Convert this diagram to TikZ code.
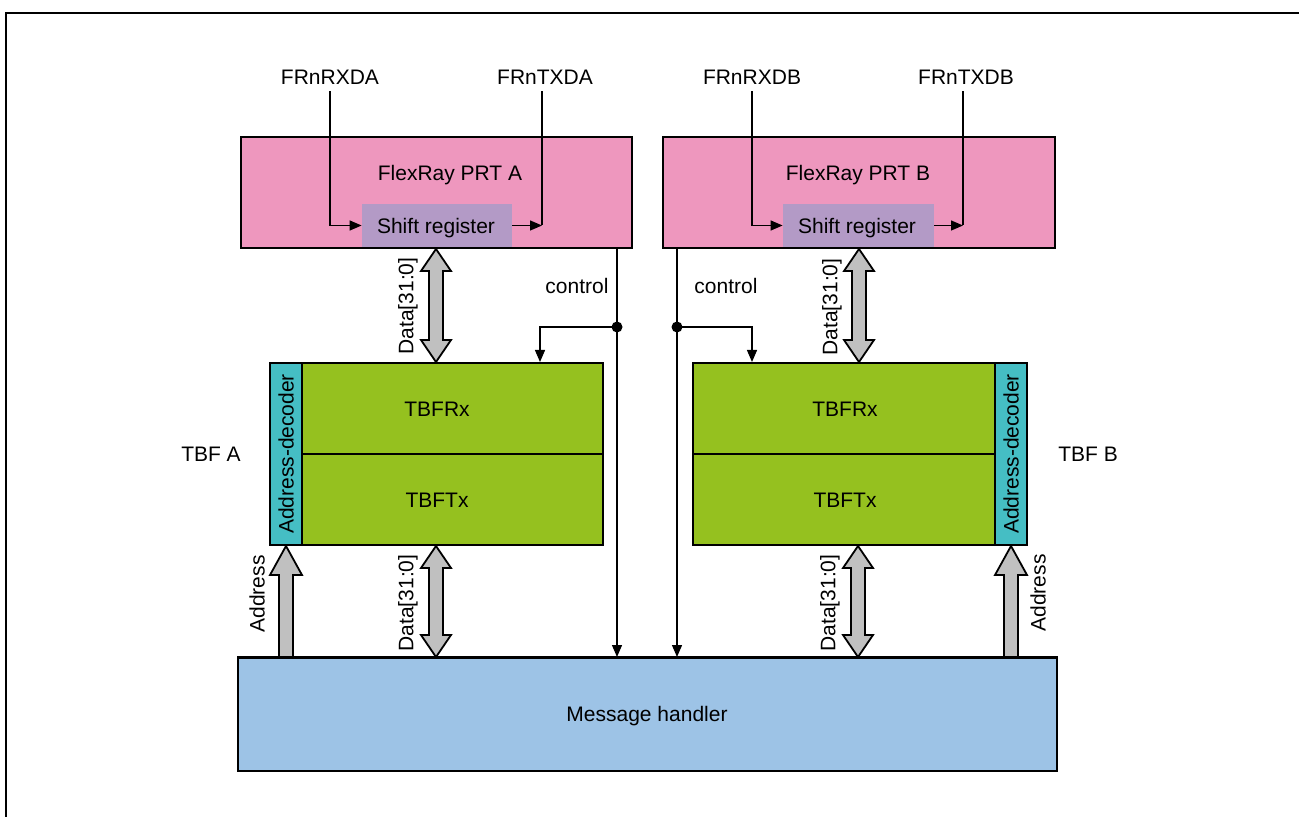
\documentclass[tikz,border=0pt]{standalone}
\usepackage{fontspec}
\setmainfont{Liberation Sans}
\usetikzlibrary{arrows.meta,calc}
\definecolor{prt}{HTML}{EE97BE}
\definecolor{shreg}{HTML}{B39AC6}
\definecolor{tbf}{HTML}{95C11F}
\definecolor{adec}{HTML}{45BEC4}
\definecolor{mhc}{HTML}{9DC3E6}
\definecolor{fat}{HTML}{C0C0C0}
\newcommand\fatdbl[2]{%
  \draw[fatarrow] (#1) -- ([shift={(15,22)}]#1) -- ([shift={(7,22)}]#1) -- ([shift={(7,-22)}]#2) -- ([shift={(15,-22)}]#2) -- (#2) -- ([shift={(-15,-22)}]#2) -- ([shift={(-7,-22)}]#2) -- ([shift={(-7,22)}]#1) -- ([shift={(-15,22)}]#1) -- cycle;}
\newcommand\fatup[2]{%
  \draw[fatarrow] ([shift={(-7,0)}]#1) -- ([shift={(-7,29)}]#2) -- ([shift={(-16,29)}]#2) -- (#2) -- ([shift={(16,29)}]#2) -- ([shift={(7,29)}]#2) -- ([shift={(7,0)}]#1) -- cycle;}
\begin{document}
\begin{tikzpicture}[x=0.5pt,y=-0.5pt,font=\fontsize{10.5}{12}\selectfont,
  blk/.style={draw=black,line width=1pt,inner sep=0pt},
  sig/.style={line width=0.65pt},
  tip/.style={-{Triangle[length=6pt,width=5pt]}},
  fatarrow/.style={fill=fat,draw=black,line width=0.9pt,line join=miter},
  txt/.style={inner sep=3pt}]
\useasboundingbox (0,0) rectangle (1299,817);
\draw[line width=1pt] (6,817) -- (6,13) -- (1299,13);

% PRT blocks
\node[blk,fill=prt,minimum width=195.5pt,minimum height=55.5pt] (pa) at (436.5,192.5) {};
\node[fill=shreg,inner sep=0pt,minimum width=75pt,minimum height=21.5pt] (sra) at (437,225.5) {};
\node[txt] at (436,228) {Shift register};
\node[txt] (pat) at (450,175) {FlexRay PRT A};
\node[blk,fill=prt,minimum width=196pt,minimum height=55.5pt] (pb) at (859,192.5) {};
\node[fill=shreg,inner sep=0pt,minimum width=75.5pt,minimum height=21.5pt] (srb) at (858.5,225.5) {};
\node[txt] at (857,228) {Shift register};
\node[txt] (pbt) at (858,175) {FlexRay PRT B};

% signal names
\node[txt,anchor=base] (rxa) at (330,85) {FRnRXDA};
\node[txt,anchor=base] (txa) at (545,85) {FRnTXDA};
\node[txt,anchor=base] (rxb) at (752,85) {FRnRXDB};
\node[txt,anchor=base] (txb) at (966,85) {FRnTXDB};
\draw[sig,tip] (rxa.south) |- (sra.west);
\coordinate (txak) at (sra.east -| 542,0);
\draw[sig,tip] (sra.east) -- (txak);
\draw[sig] (txak) -- (txak |- txa.south);
\draw[sig,tip] (rxb.south) |- (srb.west);
\coordinate (txbk) at (srb.east -| 963,0);
\draw[sig,tip] (srb.east) -- (txbk);
\draw[sig] (txbk) -- (txbk |- txb.south);

% TBF A
\node[blk,fill=adec,minimum width=16pt,minimum height=91pt] (adA) at (286,454) {};
\node[rotate=90,inner sep=0pt] at (adA) {Address-decoder};
\node[blk,fill=tbf,minimum width=150.5pt,minimum height=45.5pt] (tbfra) at (452.5,408.5) {};
\node[blk,fill=tbf,minimum width=150.5pt,minimum height=45.5pt] (tbfta) at (452.5,499.5) {};
\node[txt] at (437,409) {TBFRx};
\node[txt] at (437,500) {TBFTx};
\node[txt] (tbfal) at (211,454) {TBF A};

% TBF B
\node[blk,fill=adec,minimum width=16pt,minimum height=91pt] (adB) at (1011,454) {};
\node[rotate=90,inner sep=0pt] at (adB) {Address-decoder};
\node[blk,fill=tbf,minimum width=151pt,minimum height=45.5pt] (tbfrb) at (844,408.5) {};
\node[blk,fill=tbf,minimum width=151pt,minimum height=45.5pt] (tbftb) at (844,499.5) {};
\node[txt] at (845,409) {TBFRx};
\node[txt] at (845,500) {TBFTx};
\node[txt] (tbfbl) at (1088,454) {TBF B};

% Message handler
\node[blk,fill=mhc,minimum width=409.5pt,minimum height=56.5pt] (mh) at (647.5,714.5) {};
\node[txt] at (647,716) {Message handler};

% fat arrows
\coordinate (dAt) at (pa.south -| 436,0);
\coordinate (dAb) at (tbfra.north -| 436,0);
\fatdbl{dAt}{dAb}
\coordinate (dAt2) at (tbfta.south -| 436,0);
\coordinate (dAb2) at (mh.north -| 436,0);
\fatdbl{dAt2}{dAb2}
\coordinate (dBt) at (pb.south -| 859,0);
\coordinate (dBb) at (tbfrb.north -| 859,0);
\fatdbl{dBt}{dBb}
\coordinate (dBt2) at (tbftb.south -| 858,0);
\coordinate (dBb2) at (mh.north -| 858,0);
\fatdbl{dBt2}{dBb2}
\coordinate (aAb) at (mh.north -| adA);
\coordinate (aAt) at (adA.south);
\fatup{aAb}{aAt}
\coordinate (aBb) at (mh.north -| adB);
\coordinate (aBt) at (adB.south);
\fatup{aBb}{aBt}
\draw[line width=1pt] (mh.north west) -- (mh.north east);

\node[rotate=90,inner sep=0pt] at (408,306) {Data[31:0]};
\node[rotate=90,inner sep=0pt] at (408,603) {Data[31:0]};
\node[rotate=90,inner sep=0pt] at (832,307) {Data[31:0]};
\node[rotate=90,inner sep=0pt] at (830,603) {Data[31:0]};
\node[rotate=90,inner sep=0pt] at (257,594) {Address};
\node[rotate=90,inner sep=0pt] at (1038,593) {Address};

% control
\coordinate (ca) at (617,327);
\coordinate (cat) at (540,0);
\draw[sig,tip] (pa.south -| ca) -- (mh.north -| ca);
\draw[sig,tip] (ca) -| (tbfra.north -| cat);
\fill (ca) circle[radius=5.5];
\node[txt] at (577,286) {control};
\coordinate (cb) at (677,327);
\coordinate (cbt) at (752,0);
\draw[sig,tip] (pb.south -| cb) -- (mh.north -| cb);
\draw[sig,tip] (cb) -| (tbfrb.north -| cbt);
\fill (cb) circle[radius=5.5];
\node[txt] at (726,286) {control};
\end{tikzpicture}
\end{document}
